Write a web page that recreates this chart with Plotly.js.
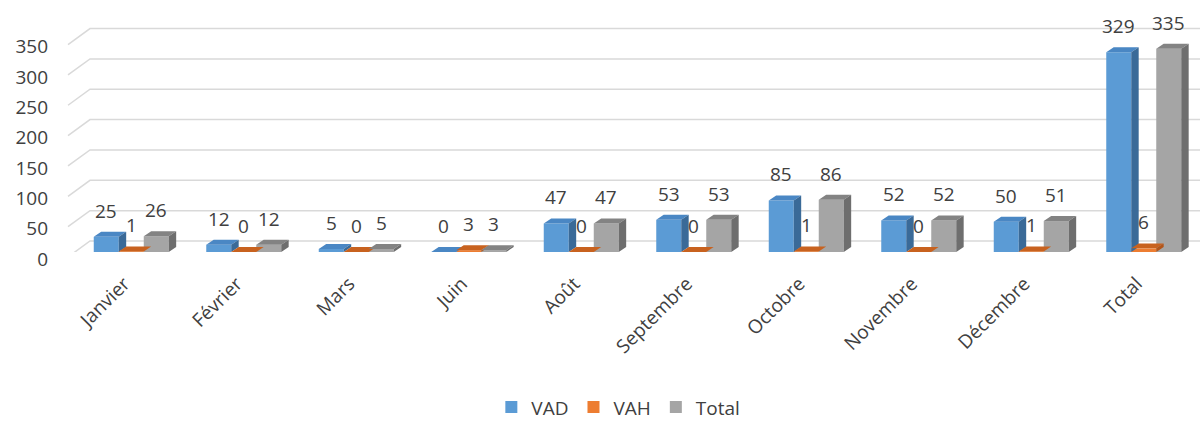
<!DOCTYPE html>
<html>
<head>
<meta charset="utf-8">
<script src="https://cdn.plot.ly/plotly-3.0.1.min.js"></script>
<style>html,body{margin:0;padding:0;background:#fff;}#chart{width:1203px;height:422px;}</style>
</head>
<body>
<div id="chart"></div>
<script>
// ---- data ----
var categories = ["Janvier", "Février", "Mars", "Juin", "Août", "Septembre", "Octobre", "Novembre", "Décembre", "Total"];
var vad   = [25, 12, 5, 0, 47, 53, 85, 52, 50, 329];
var vah   = [1, 0, 0, 3, 0, 0, 1, 0, 1, 6];
var total = [26, 12, 5, 3, 47, 53, 86, 52, 51, 335];
var yTicks = [0, 50, 100, 150, 200, 250, 300, 350];

// ---- style / geometry ----
var FONT = "Open Sans, Liberation Sans, sans-serif";
var TXT = "#404040";
var BARW = 0.2222;            // bar width in category units
var DX = 0.066;               // 3D depth, x units
var DY = 8.2;                 // 3D depth, y units
var series = [
  {name: "VAD",   vals: vad,   off: -0.3333, front: "#5B9BD5", top: "#4A87C4", side: "#3A6A98"},
  {name: "VAH",   vals: vah,   off: -0.1111, front: "#ED7D31", top: "#C8621F", side: "#B35519"},
  {name: "Total", vals: total, off:  0.1111, front: "#A5A5A5", top: "#838383", side: "#6E6E6E"}
];
var xs = categories.map(function(c, i){ return i; });

var traces = [];
series.forEach(function(s){
  traces.push({
    type: "bar", name: s.name, x: xs, y: s.vals,
    width: BARW, offset: s.off,
    marker: {color: s.front, line: {width: 0}},
    hoverinfo: "skip"
  });
});
series.forEach(function(s){
  var tx = [], ty = [], sx = [], sy = [];
  s.vals.forEach(function(v, i){
    var x0 = i + s.off, x1 = x0 + BARW;
    tx.push(x0, x0 + DX, x1 + DX, x1, x0, null);
    ty.push(v, v + DY, v + DY, v, v, null);
    sx.push(x1, x1 + DX, x1 + DX, x1, x1, null);
    sy.push(0, DY, v + DY, v, 0, null);
  });
  traces.push({type: "scatter", mode: "lines", x: tx, y: ty, fill: "toself",
    fillcolor: s.top, line: {width: 0, color: s.top}, showlegend: false, hoverinfo: "skip"});
  traces.push({type: "scatter", mode: "lines", x: sx, y: sy, fill: "toself",
    fillcolor: s.side, line: {width: 0, color: s.side}, showlegend: false, hoverinfo: "skip"});
});

// data labels
var annotations = [];
series.forEach(function(s){
  s.vals.forEach(function(v, i){
    annotations.push({x: i + s.off + BARW / 2, y: v, xref: "x", yref: "y",
      text: String(v), showarrow: false, yanchor: "middle", yshift: 26,
      font: {family: FONT, size: 19, color: TXT}});
  });
});

// back-wall gridlines (slanted floor segment + horizontal line)
var shapes = yTicks.map(function(v){
  return {type: "path", layer: "below", xref: "paper", yref: "y",
    xsizemode: "pixel", ysizemode: "pixel", xanchor: 0, yanchor: v,
    path: "M-7,-5 L15,11 L1125,11",
    line: {color: "#D9D9D9", width: 1.5}};
});

var layout = {
  width: 1203, height: 422,
  margin: {l: 75, r: 3, t: 20, b: 170, autoexpand: false},
  paper_bgcolor: "#ffffff", plot_bgcolor: "rgba(0,0,0,0)",
  barmode: "overlay",
  showlegend: true,
  legend: {orientation: "h", xref: "container", yref: "container",
    x: 0.514, xanchor: "center", y: 0.035, yanchor: "middle",
    font: {family: FONT, size: 19, color: TXT}, itemclick: false},
  xaxis: {range: [-0.5, 9.5], tickvals: xs, ticktext: categories, tickangle: -45,
    showgrid: false, zeroline: false, showline: false, ticks: "", automargin: false,
    ticklabelstandoff: 16, ticklabelshift: -7,
    tickfont: {family: FONT, size: 19, color: TXT}},
  yaxis: {range: [0, 382.2], tickvals: yTicks, showgrid: false, zeroline: false,
    showline: false, ticks: "", automargin: false, ticklabelshift: 7, ticklabelstandoff: 26,
    tickfont: {family: FONT, size: 19, color: TXT}},
  shapes: shapes,
  annotations: annotations,
  hovermode: false
};

Plotly.newPlot("chart", traces, layout, {displayModeBar: false, staticPlot: true});
</script>
</body>
</html>
